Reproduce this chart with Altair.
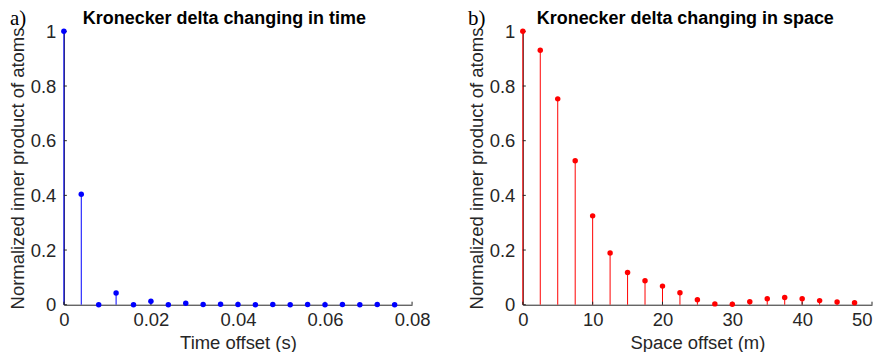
import altair as alt
import pandas as pd

# ---- data ----
time_x = [0.000, 0.004, 0.008, 0.012, 0.016, 0.020, 0.024, 0.028, 0.032, 0.036,
          0.040, 0.044, 0.048, 0.052, 0.056, 0.060, 0.064, 0.068, 0.072, 0.076]
time_y = [1.000, 0.404, 0.000, 0.043, 0.000, 0.013, 0.000, 0.005, 0.001, 0.002,
          0.001, 0.000, 0.001, 0.000, 0.001, 0.000, 0.001, 0.000, 0.001, 0.000]

space_x = [0.0, 2.5, 5.0, 7.5, 10.0, 12.5, 15.0, 17.5, 20.0, 22.5,
           25.0, 27.5, 30.0, 32.5, 35.0, 37.5, 40.0, 42.5, 45.0, 47.5]
space_y = [1.000, 0.931, 0.753, 0.527, 0.325, 0.189, 0.118, 0.088, 0.068, 0.044,
           0.018, 0.003, 0.002, 0.011, 0.022, 0.026, 0.022, 0.015, 0.010, 0.007]

time_ticks = [0, 0.02, 0.04, 0.06, 0.08]
space_ticks = [0, 10, 20, 30, 40, 50]
y_ticks = [0, 0.2, 0.4, 0.6, 0.8, 1.0]

y_title = "Normalized inner product of atoms"
AX = "#262626"
FONT = "Liberation Sans"
H = 274


def panel(xs, ys, color, xdomain, xticks, xfmt, width, xtitle, title, letter,
          title_dx, letter_dx, last_right=False):
    df = pd.DataFrame({"x": xs, "y": ys})
    xscale = alt.Scale(domain=xdomain, nice=False, zero=True)
    yscale = alt.Scale(domain=[0, 1], nice=False)
    axis_kw = dict(values=xticks, format=xfmt, title=xtitle, labelFlush=False)
    if last_right:
        axis_kw["labelAlign"] = {
            "condition": {"test": f"datum.value >= {xticks[-1]}", "value": "right"},
            "value": "center",
        }
    xaxis = alt.Axis(**axis_kw)
    yaxis = alt.Axis(values=y_ticks, format=".1~f", title=y_title)

    stems = alt.Chart(df).mark_rule(color=color, strokeWidth=1).encode(
        x=alt.X("x:Q", scale=xscale, axis=xaxis),
        y=alt.Y("y:Q", scale=yscale, axis=yaxis),
        y2=alt.datum(0),
    )
    dots = alt.Chart(df).mark_circle(color=color, size=30, opacity=1).encode(
        x=alt.X("x:Q", scale=xscale, axis=xaxis),
        y=alt.Y("y:Q", scale=yscale, axis=yaxis),
    )
    xt = alt.Chart(pd.DataFrame({"x": xticks})).mark_rule(color=AX, strokeWidth=1).encode(
        x=alt.X("x:Q", scale=xscale, axis=xaxis),
        y=alt.value(H),
        y2=alt.value(H - 3),
    )
    yt = alt.Chart(pd.DataFrame({"y": y_ticks})).mark_rule(color=AX, strokeWidth=1).encode(
        y=alt.Y("y:Q", scale=yscale, axis=yaxis),
        x=alt.value(0),
        x2=alt.value(3),
    )
    one = pd.DataFrame({"a": [0]})
    ttl = alt.Chart(one).mark_text(
        text=title, align="left", baseline="alphabetic", font=FONT,
        fontWeight="bold", fontSize=18, color="black",
    ).encode(x=alt.value(title_dx), y=alt.value(-7))
    let = alt.Chart(one).mark_text(
        text=letter, align="left", baseline="alphabetic", font="Liberation Serif",
        fontSize=21, color="black",
    ).encode(x=alt.value(letter_dx), y=alt.value(-6))
    return alt.layer(stems, xt, yt, dots, ttl, let).properties(width=width, height=H)


left = panel(time_x, time_y, "#0000ff", [0, 0.08], time_ticks, ".2~f", 349,
             "Time offset (s)", "Kronecker delta changing in time", "a)", 19, -54)
right = panel(space_x, space_y, "#ff0000", [0, 50], space_ticks, "d", 350,
              "Space offset (m)", "Kronecker delta changing in space", "b)", 14, -55,
              last_right=True)

chart = alt.hconcat(left, right, spacing=36).properties(padding=0).configure_view(
    stroke=None
).configure_axis(
    grid=False, ticks=False, domainColor=AX, domainWidth=1,
    labelColor=AX, labelFont=FONT, labelFontSize=18.5, labelPadding=8,
    titleColor=AX, titleFont=FONT, titleFontSize=18.5, titleFontWeight="normal",
    labelOverlap=False,
).configure_axisX(titlePadding=4, labelPadding=6).configure_axisY(titlePadding=3)

chart.save("out.html", embed_options={"renderer": "svg", "actions": False})
